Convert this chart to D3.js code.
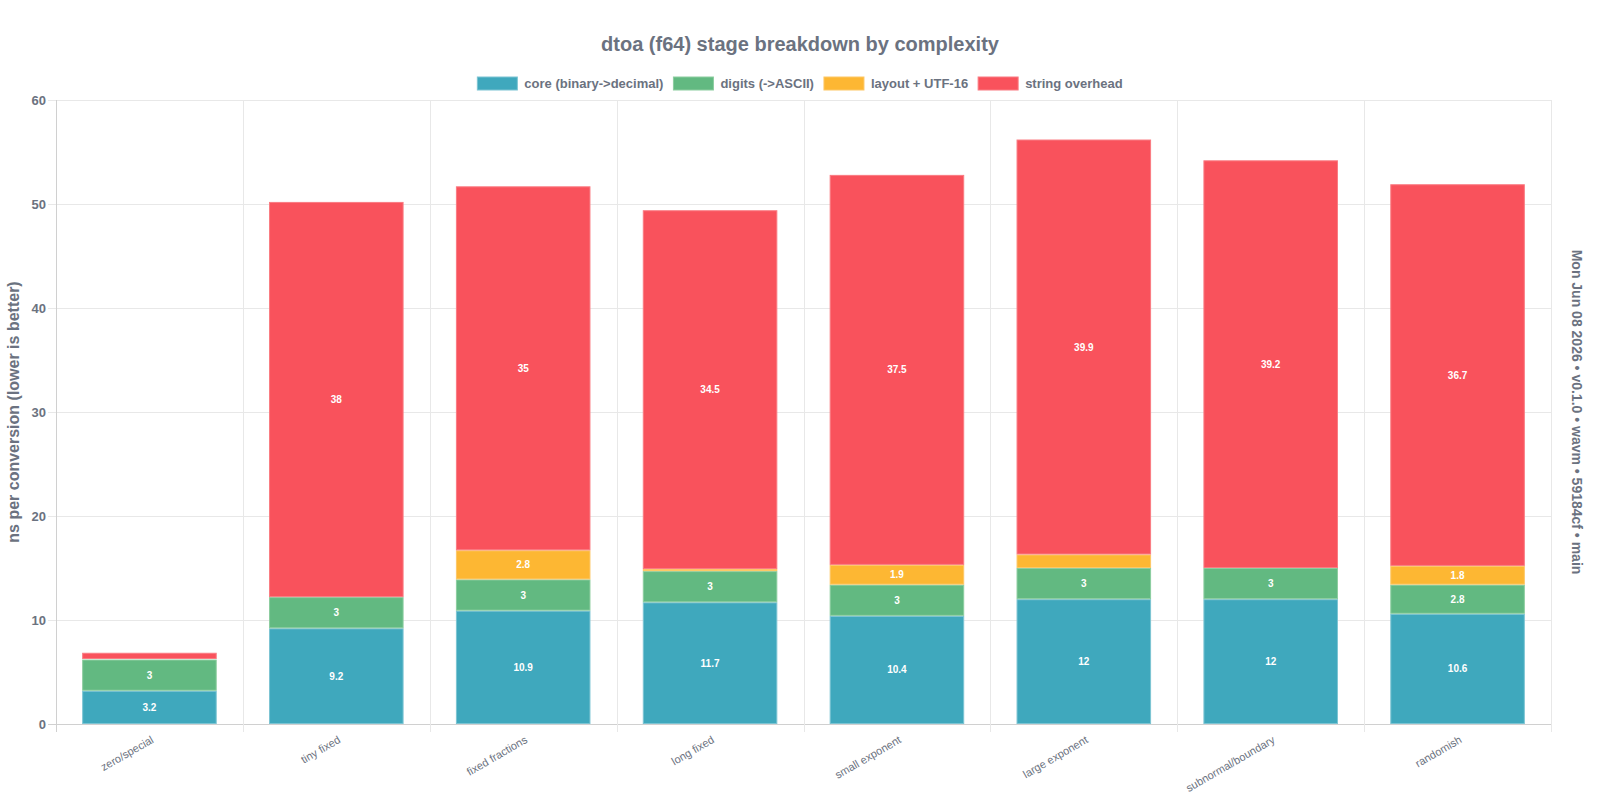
<!DOCTYPE html>
<html>
<head>
<meta charset="utf-8">
<script src="https://cdn.jsdelivr.net/npm/d3@7"></script>
<style>
  body { margin: 0; background: #fff; }
  text { font-family: "Liberation Sans", Arial, Helvetica, sans-serif; }
</style>
</head>
<body>
<div id="grafico"></div>
<script>
    ancho = 1600;
    alto = 800;
    izq = 56;
    der = 1551;
    arriba = 100;
    abajo = 724;
    gris = "#6b7280";

    categorias = ["zero/special", "tiny fixed", "fixed fractions", "long fixed",
                  "small exponent", "large exponent", "subnormal/boundary", "randomish"];
    series = ["core (binary->decimal)", "digits (->ASCII)", "layout + UTF-16", "string overhead"];
    core = [3.2, 9.2, 10.9, 11.7, 10.4, 12, 12, 10.6];
    digits = [3, 3, 3, 3, 3, 3, 3, 2.8];
    layoutUtf = [0.05, 0, 2.8, 0.2, 1.9, 1.3, 0, 1.8];
    overhead = [0.6, 38, 35, 34.5, 37.5, 39.9, 39.2, 36.7];
    ticksY = [0, 10, 20, 30, 40, 50, 60];

    colores = ["#3fa8bd", "#62b981", "#fdb733", "#f9525c"];
    bordes = ["#7cc4d3", "#8ccd9f", "#fdc766", "#fa7b82"];

    var filas = categorias.map(function (c, i) {
        return { cat: c, s0: core[i], s1: digits[i], s2: layoutUtf[i], s3: overhead[i] };
    });
    var apilado = d3.stack().keys(["s0", "s1", "s2", "s3"])(filas);

    var svg = d3.select("#grafico")
        .append("svg")
        .attr("width", ancho)
        .attr("height", alto);

    var x = d3.scaleBand()
        .domain(categorias)
        .range([izq, der])
        .paddingInner(0.28)
        .paddingOuter(0.14);
    var paso = x.step();

    var y = d3.scaleLinear()
        .domain([0, 60])
        .range([abajo, arriba]);

    // rejilla horizontal
    svg.append("g").selectAll("line")
        .data(ticksY)
        .enter()
        .append("line")
        .attr("x1", izq - 8)
        .attr("x2", der)
        .attr("y1", function (d) { return y(d) + 0.5; })
        .attr("y2", function (d) { return y(d) + 0.5; })
        .attr("stroke", function (d) { return d == 0 ? "#d0d0d0" : "#e8e8e8"; });

    // rejilla vertical
    var bordesX = d3.range(categorias.length + 1).map(function (i) { return izq + i * paso; });
    svg.append("g").selectAll("line")
        .data(bordesX)
        .enter()
        .append("line")
        .attr("x1", function (d) { return Math.round(d) + 0.5; })
        .attr("x2", function (d) { return Math.round(d) + 0.5; })
        .attr("y1", arriba)
        .attr("y2", abajo + 8)
        .attr("stroke", function (d, i) { return i == 0 ? "#d0d0d0" : "#e8e8e8"; });

    svg.append("g").selectAll("text")
        .data(ticksY)
        .enter()
        .append("text")
        .text(function (d) { return d; })
        .attr("x", izq - 10)
        .attr("y", function (d) { return y(d); })
        .attr("dy", "0.35em")
        .attr("text-anchor", "end")
        .attr("font-size", "13px")
        .attr("font-weight", "bold")
        .attr("fill", gris);

    // barras apiladas
    var grupos = svg.append("g").selectAll("g")
        .data(apilado)
        .enter()
        .append("g")
        .attr("fill", function (d, i) { return colores[i]; })
        .attr("stroke", function (d, i) { return bordes[i]; });

    grupos.selectAll("rect")
        .data(function (d) { return d; })
        .enter()
        .append("rect")
        .attr("x", function (d) { return x(d.data.cat) + 0.5; })
        .attr("y", function (d) { return y(d[1]) + 0.5; })
        .attr("width", x.bandwidth() - 1)
        .attr("height", function (d) { return Math.max(0, y(d[0]) - y(d[1]) - 1); })
        .attr("stroke-width", 1);

    // etiquetas de valores
    grupos.selectAll("text")
        .data(function (d) { return d.filter(function (p) { return p[1] - p[0] >= 1.5; }); })
        .enter()
        .append("text")
        .text(function (d) { return +(d[1] - d[0]).toFixed(1); })
        .attr("x", function (d) { return x(d.data.cat) + x.bandwidth() / 2; })
        .attr("y", function (d) { return (y(d[0]) + y(d[1])) / 2; })
        .attr("dy", "0.35em")
        .attr("text-anchor", "middle")
        .attr("font-size", "10px")
        .attr("font-weight", "bold")
        .attr("fill", "#fff")
        .attr("stroke", "none");

    // etiquetas eje x
    svg.append("g").selectAll("text")
        .data(categorias)
        .enter()
        .append("text")
        .text(function (d) { return d; })
        .attr("transform", function (d) {
            return "translate(" + (x(d) + x.bandwidth() / 2 + 5) + "," + (abajo + 18) + ") rotate(-30)";
        })
        .attr("text-anchor", "end")
        .attr("font-size", "11px")
        .attr("fill", gris);

    // titulos
    svg.append("text")
        .text("dtoa (f64) stage breakdown by complexity")
        .attr("x", ancho / 2)
        .attr("y", 51)
        .attr("text-anchor", "middle")
        .attr("font-size", "20px")
        .attr("font-weight", "bold")
        .attr("fill", gris);

    svg.append("text")
        .text("ns per conversion (lower is better)")
        .attr("transform", "translate(19," + ((arriba + abajo) / 2) + ") rotate(-90)")
        .attr("text-anchor", "middle")
        .attr("font-size", "16px")
        .attr("font-weight", "bold")
        .attr("fill", gris);

    svg.append("text")
        .text("Mon Jun 08 2026 \u2022 v0.1.0 \u2022 wavm \u2022 59184cf \u2022 main")
        .attr("transform", "translate(1572," + ((arriba + abajo) / 2) + ") rotate(90)")
        .attr("text-anchor", "middle")
        .attr("font-size", "14px")
        .attr("font-weight", "bold")
        .attr("fill", gris);

    // leyenda
    var leyenda = svg.append("g");
    var items = leyenda.selectAll("g")
        .data(series)
        .enter()
        .append("g");
    items.append("rect")
        .attr("width", 40)
        .attr("height", 13)
        .attr("y", 77)
        .attr("fill", function (d, i) { return colores[i]; })
        .attr("stroke", function (d, i) { return bordes[i]; });
    items.append("text")
        .text(function (d) { return d; })
        .attr("x", 47)
        .attr("y", 83.5)
        .attr("dy", "0.35em")
        .attr("font-size", "13px")
        .attr("font-weight", "bold")
        .attr("fill", gris);

    var anchos = [];
    items.each(function () { anchos.push(47 + this.querySelector("text").getComputedTextLength()); });
    var total = d3.sum(anchos) + 10 * (anchos.length - 1);
    var pos = (ancho - total) / 2;
    items.attr("transform", function (d, i) {
        var t = "translate(" + pos + ",0)";
        pos += anchos[i] + 10;
        return t;
    });
</script>
</body>
</html>
